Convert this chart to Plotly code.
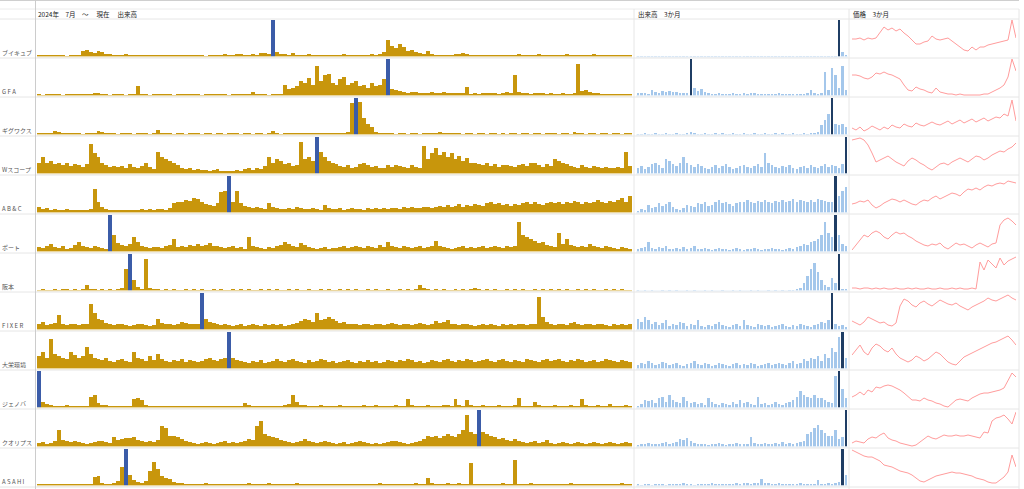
import plotly.graph_objects as go

# ---------------- data ----------------
labels = ["ブイキュブ", "G F A", "ギグワクス", "Wスコープ", "A B & C", "ポート",
          "阪本", "F I X E R", "大栄環境", "ジェノバ", "クオリプス", "A S A H I"]

header_long = "2024年　7月　～　 現在　 出来高"
header_recent = "出来高　3か月"
header_price = "価格　3か月"

# long-term volume (2024-07 .. now), relative units
long_r1 = [3,3,4,3,3,4,3,2,3,4, 3,14,18,12,10,16,12,7,6,5, 4,5,6,4,5,4,3,4,3,3, 4,3,5,4,3,4,3,3,4,3,
           4,3,2,3,3,4,5,6,4,5, 8,6,5,4,7,5,9,10,6,100, 12,8,6,5,9,5,4,5,6,4, 5,4,5,4,3,5,4,6,5,4,
           3,4,5,4,6,5,8,12,45,30, 22,35,25,15,18,12,10,8,14,6, 5,4,5,3,4,6,8,10,6,5, 4,3,5,4,3,4,5,4,3,4,
           5,6,4,3,5,4,6,3,4,5, 4,3,5,7,4,3,4,5,3,4, 6,4,3,5,4,3,4,5,3,4]
long_r2 = [3,2,3,4,3,3,2,3,4,3, 3,4,5,3,8,6,3,3,2,3, 4,3,2,3,3,27,3,3,2,3, 3,4,3,3,2,3,4,3,4,3,
           3,2,3,4,3,4,3,3,2,4, 3,3,4,3,10,4,3,3,2,3, 4,3,30,18,20,25,40,35,48,30, 80,40,55,60,35,30,45,50,28,35,
           40,25,30,20,35,25,30,45,100,18, 15,12,10,8,10,9,7,8,6,10, 8,7,9,6,7,8,7,6,22,5, 7,5,6,8,6,7,5,6,9,8,
           55,10,7,6,5,8,6,7,5,6, 5,4,6,5,4,8,85,12,15,10, 6,8,5,4,5,3,4,3,3,4]
long_r3 = [3,3,3,5,9,7,4,3,3,3, 3,2,3,3,5,10,7,4,3,3, 2,3,3,3,2,3,4,3,2,5, 12,5,3,3,2,3,3,2,3,3,
           3,2,3,3,2,3,3,2,3,3, 3,2,3,3,2,3,3,2,3,9, 3,2,3,4,4,5,4,4,3,3, 3,4,3,4,3,3,3,4,8,85,
           100,90,45,30,20,8,5,4,3,3, 2,3,3,2,3,3,2,3,3,3, 3,8,3,3,4,4,3,2,3,3, 2,3,3,2,3,3,2,3,2,3,
           3,2,3,3,2,3,3,2,3,4, 3,2,3,3,2,8,4,3,2,3, 3,2,3,3,2,3,3,2,3,3]
long_r4 = [30,45,28,35,25,30,22,28,20,25, 22,18,25,80,55,45,30,22,18,20, 18,20,15,25,18,15,20,30,18,12, 60,45,40,35,28,22,15,12,14,10,
           12,10,9,8,10,12,8,7,6,8, 10,8,12,15,10,14,12,20,45,30, 40,35,25,30,20,22,85,40,45,35, 100,60,45,35,30,25,20,18,22,16,
           18,25,30,22,18,20,15,16,22,18, 24,20,18,16,22,18,15,75,40,55, 70,50,60,45,55,40,48,35,42,30, 28,25,22,30,20,26,18,22,24,20,
           18,22,25,20,28,30,22,18,26,20, 40,35,30,25,20,18,16,22,18,15, 20,18,15,17,14,16,18,15,60,20]
long_r5 = [15,10,12,8,10,8,7,9,6,8, 7,6,8,9,65,30,15,10,8,7, 6,7,8,6,7,8,9,7,10,8, 9,10,8,12,25,30,28,35,32,40,
           38,30,22,20,18,25,55,60,100,30, 60,25,18,15,12,14,12,10,25,15, 12,10,9,11,10,14,12,10,9,12, 10,8,20,12,10,9,11,8,10,12,
           10,9,8,12,10,11,9,13,10,12, 11,10,14,12,15,13,12,16,14,12, 15,18,14,20,16,18,22,15,20,18, 24,20,18,25,30,22,26,20,24,18,
           22,20,25,28,22,30,24,20,26,30, 25,28,22,30,26,32,28,24,30,26, 28,35,30,26,32,28,35,40,30,45]
long_r6 = [12,10,15,20,12,10,14,8,10,18, 25,15,12,10,14,12,10,8,100,45, 22,18,15,20,40,25,15,12,10,12, 12,10,15,18,35,12,15,12,18,14,
           20,15,18,22,16,14,12,10,12,14, 10,12,8,40,15,12,10,8,12,10, 14,18,25,20,15,12,22,18,12,10, 8,10,12,8,10,9,12,14,10,12,
           15,12,10,14,12,10,18,12,25,15, 12,10,14,12,10,12,15,10,12,14, 30,15,12,10,8,10,12,14,10,12, 10,12,14,10,12,15,12,10,14,12,
           15,80,45,40,35,30,22,25,18,15, 12,50,20,35,18,14,12,16,12,20, 15,12,10,14,12,10,8,12,10,8]
long_r7 = [2,3,2,2,3,2,3,4,2,3, 2,3,15,4,3,2,3,2,3,2, 3,8,60,100,30,10,5,85,6,3, 3,2,3,2,3,2,2,3,2,3,
           2,3,2,2,3,2,3,2,2,3, 2,3,2,3,2,2,3,2,3,2, 3,2,2,3,2,3,2,2,3,2, 2,3,2,3,2,2,3,2,3,2,
           3,2,2,3,2,3,2,2,3,2, 2,3,2,3,2,3,15,8,3,2, 3,2,3,2,2,3,2,3,2,3, 8,3,2,3,2,3,2,2,3,2,
           3,2,3,2,2,3,2,3,2,3, 2,3,2,3,2,2,3,2,3,2, 3,2,2,3,2,3,2,3,2,2]
long_r8 = [15,20,12,15,18,40,15,12,14,15, 12,15,14,70,45,30,25,18,15,12, 15,14,12,10,12,15,14,12,10,12, 30,18,15,14,12,15,20,18,15,14,
           16,100,30,20,18,15,12,14,12,10, 12,15,10,12,14,12,10,14,12,15, 12,14,10,12,15,18,22,30,25,20, 45,25,30,35,28,22,18,20,15,14,
           16,12,14,15,12,16,14,12,15,18, 14,12,15,16,12,14,18,15,12,14, 22,18,20,25,15,14,12,15,14,12, 10,12,14,12,15,12,10,14,12,15,
           12,14,16,12,15,14,90,35,20,15, 12,15,14,12,18,20,14,12,15,14, 12,14,15,12,10,14,12,15,12,14]
long_r9 = [35,45,30,80,40,35,30,25,45,38, 30,35,60,40,30,25,22,28,20,18, 22,25,20,18,45,30,25,20,35,22, 40,25,20,18,22,20,25,18,22,20,
           18,20,25,30,22,20,25,28,100,30, 22,20,18,15,20,18,22,15,18,20, 25,20,18,22,25,20,18,15,22,18, 20,25,22,18,20,15,18,20,22,18,
           15,20,18,22,18,20,15,18,22,20, 18,22,20,25,22,18,20,15,18,22, 20,18,22,25,20,18,22,20,25,22, 18,20,22,25,20,18,22,25,20,18,
           22,20,18,25,22,20,18,22,25,20, 22,25,20,18,22,20,25,22,18,20, 22,18,20,25,22,20,18,22,20,18]
long_r10 = [100,15,10,6,5,4,3,8,4,5, 4,3,5,30,35,12,8,6,5,4, 5,4,5,4,22,25,20,8,5,4, 4,5,3,4,5,4,3,4,5,4,
            3,4,5,4,3,4,3,4,5,4, 5,4,12,6,4,3,4,5,4,3, 4,3,8,10,35,15,8,6,5,5, 5,6,5,4,5,4,6,5,4,5,
            4,5,6,4,5,6,5,4,3,5, 6,4,5,22,8,5,4,5,6,5, 4,5,6,8,5,22,6,5,20,6, 4,5,6,5,4,5,6,5,4,5,
            6,25,5,4,5,14,6,5,4,5, 6,5,4,5,6,4,5,24,8,5, 4,6,5,4,10,5,4,5,6,5]
long_r11 = [10,12,8,10,15,45,18,15,12,14, 12,10,8,10,12,14,15,12,10,25, 18,20,24,22,25,18,15,12,14,12, 18,55,50,30,28,25,20,15,12,10,
            8,10,12,10,8,10,12,14,10,12, 10,12,15,20,18,55,70,35,30,25, 22,18,15,12,10,12,14,20,15,12, 10,12,14,12,10,8,10,12,8,10,
            12,15,12,10,8,10,8,10,12,15, 14,12,10,8,10,12,15,20,30,25, 28,22,30,35,28,25,35,45,85,40, 35,100,40,35,30,25,20,22,18,15,
            20,15,12,10,12,14,10,12,18,10, 8,10,12,10,8,10,12,10,8,10, 12,10,8,10,12,10,8,10,12,10]
long_r12 = [3,4,3,3,5,4,3,4,3,3, 4,3,3,5,22,25,8,5,4,6, 12,50,100,30,15,10,8,12,40,65, 45,25,20,18,10,8,6,5,4,5,
            4,5,8,4,3,4,5,4,3,4, 5,4,3,8,4,5,3,4,6,4, 5,4,3,4,5,8,4,3,4,5, 4,3,5,4,3,4,5,4,3,5,
            4,3,4,5,3,4,6,4,3,4, 5,4,3,4,5,6,4,3,20,8, 5,4,3,6,4,5,8,5,4,62, 3,4,5,4,3,4,5,6,4,5,
            70,3,5,4,6,4,3,5,4,3, 4,5,3,4,6,4,5,3,4,5, 4,3,5,4,3,4,5,6,4,3]
long_hl = [59, 88, 80, 70, 48, 18, 23, 41, 48, 0, 111, 22]

# last-3-months volume, relative units
recent_r1 = [2,1,2,1,2,1,1,2,1,2, 1,2,1,1,2,1,2,1,1,2, 1,1,2,1,2,1,1,2,1,1, 2,1,1,2,1,2,1,1,2,1,
             1,2,1,1,2,1,1,2,1,2, 1,1,2,1,1,2,1,100,12,5]
recent_r2 = [8,7,6,5,15,10,8,12,9,11, 10,9,8,7,6,100,20,12,18,10, 8,5,4,6,5,4,5,7,5,4, 6,5,8,6,4,5,4,3,5,4,
             6,5,4,5,3,4,4,5,6,15, 8,5,6,65,15,75,55,20,80,15]
recent_r3 = [2,2,3,2,2,3,2,2,3,2, 2,3,2,2,3,8,3,2,2,3, 2,2,3,2,3,2,2,3,2,2, 3,2,2,3,2,2,3,2,2,3,
             2,3,2,2,3,2,2,3,2,4, 5,8,25,40,55,100,30,25,30,20]
recent_r4 = [15,20,12,18,25,30,22,15,40,35, 25,20,30,45,28,22,18,25,20,15, 12,18,22,15,20,25,18,12,15,20,
             22,18,15,20,25,18,55,30,22,18, 15,20,18,22,15,12,18,20,15,22, 18,15,20,25,18,22,20,15,25,100]
recent_r5 = [5,10,8,20,12,15,25,18,22,30, 15,10,8,12,20,18,15,25,22,30, 18,20,28,35,25,30,22,18,25,30,
             28,35,30,25,32,28,35,30,25,32, 30,35,28,32,38,30,35,32,28,35, 30,38,35,32,30,28,100,45,60,70]
recent_r6 = [8,10,12,25,10,8,12,10,15,8, 6,10,8,12,6,10,15,8,6,10, 8,5,6,10,8,6,5,8,10,6,
             5,8,6,10,8,5,6,8,10,6, 8,5,6,10,8,12,15,20,18,25, 30,35,45,80,50,40,100,45,20,15]
recent_r7 = [1,0,1,0,1,0,0,1,0,1, 0,1,0,0,1,0,1,0,0,1, 0,1,0,0,1,0,0,1,0,1, 0,0,1,0,1,0,0,1,0,1,
             0,1,0,1,2,3,8,20,40,60, 75,50,30,15,10,35,20,100,5,3]
recent_r8 = [30,20,35,25,15,20,12,18,25,10, 15,12,20,18,10,15,12,25,10,8, 12,10,15,20,12,10,8,12,15,10,
             25,12,10,8,15,12,10,12,8,10, 12,15,10,8,12,10,15,12,10,8, 12,15,20,18,25,100,15,10,12,8]
recent_r9 = [10,15,12,20,15,10,12,18,15,10, 12,15,10,8,12,15,20,12,10,15, 12,8,10,15,12,10,8,12,15,10,
             12,10,15,12,8,10,12,15,10,12, 15,12,10,15,20,12,15,25,20,30, 25,35,20,40,30,55,45,85,100,30]
recent_r10 = [5,10,20,18,20,12,25,30,15,35, 20,15,12,30,18,12,15,10,12,8, 25,15,10,8,12,10,8,15,10,20,
              12,15,10,8,30,10,12,8,10,15, 10,8,12,15,20,30,45,35,30,25, 35,25,25,20,15,12,85,100,50,25]
recent_r11 = [5,8,6,10,8,6,8,10,12,8, 10,12,20,18,22,15,10,8,6,8, 5,6,8,10,6,5,8,6,10,8,
              6,8,25,10,6,8,10,6,8,10, 8,12,6,10,8,10,12,15,35,40, 50,60,45,38,30,28,45,20,25,100]
recent_r12 = [3,2,4,3,2,5,3,4,2,3, 4,3,5,6,4,3,2,4,3,5, 4,6,5,3,4,3,5,4,6,5,
              8,6,5,7,6,18,8,6,5,4, 6,5,4,3,5,4,6,5,4,3, 4,15,5,4,6,5,8,10,100,30]
recent_hl = [57, 15, 55, 59, 56, 56, 57, 55, 58, 57, 59, 58]

# last-3-months price, relative units
price_r1 = [19,19,20,18,20,19,20,26,31,28,30,27,29,25,22,18,14,14,16,17,22,19,18,19,20,17,14,11,8,7,11,8,11,11,13,14,15,16,17,18,38,20]
price_r2 = [22,22,21,19,18,20,24,23,25,23,22,20,18,12,7,6,10,8,7,5,4,9,5,4,3,3,2,3,2,2,2,2,2,3,3,5,7,9,12,20,38,26]
price_r3 = [8,6,9,5,7,10,8,6,9,7,11,9,8,12,10,9,13,11,10,12,14,12,11,13,15,12,14,16,13,15,17,14,16,18,15,17,19,18,22,20,36,15]
price_r4 = [35,36,37,35,30,22,13,15,17,19,16,13,11,9,14,17,15,12,10,7,5,8,11,12,10,13,15,17,15,13,16,19,18,15,17,20,22,24,23,26,28,32]
price_r5 = [10,11,13,12,14,9,6,8,11,13,15,14,12,14,12,10,9,12,14,13,16,18,15,17,19,21,20,18,22,25,24,26,24,27,29,28,30,31,30,33,32,31]
price_r6 = [3,8,14,18,16,20,22,20,16,14,18,21,19,20,17,15,12,10,8,7,9,8,10,6,4,7,10,8,9,7,5,8,10,8,6,9,10,28,33,35,32,28]
price_r7 = [4,4,3,4,4,3,4,3,4,3,3,4,3,3,4,3,4,3,3,4,3,3,4,3,3,4,3,4,3,3,4,3,30,22,32,28,24,34,27,31,33,35]
price_r8 = [10,8,6,9,14,12,10,8,9,6,5,8,25,32,30,26,24,28,30,27,25,28,31,29,27,26,28,25,23,21,24,26,28,30,33,31,30,32,34,36,33,31]
price_r9 = [15,20,25,18,15,22,26,24,20,18,22,16,12,10,8,10,14,12,9,11,15,18,16,12,8,6,5,9,13,15,17,19,21,23,25,27,28,30,32,34,30,25]
price_r10 = [12,14,17,14,19,17,22,21,23,24,23,21,19,16,12,9,9,8,11,9,8,6,5,3,2,6,9,10,9,8,11,13,15,16,16,17,18,19,21,28,36,32]
price_r11 = [5,7,6,5,9,11,10,13,15,10,8,7,5,4,3,2,3,6,9,12,10,9,11,13,12,12,13,12,12,13,12,11,10,16,15,27,30,31,33,29,24,36]
price_r12 = [37,35,33,31,30,30,28,26,22,21,20,18,16,15,14,12,9,6,5,7,9,11,12,13,14,15,14,14,13,12,11,9,8,7,5,4,4,7,10,15,32,20]

long_rows = [long_r1, long_r2, long_r3, long_r4, long_r5, long_r6, long_r7, long_r8, long_r9, long_r10, long_r11, long_r12]
recent_rows = [recent_r1, recent_r2, recent_r3, recent_r4, recent_r5, recent_r6, recent_r7, recent_r8, recent_r9, recent_r10, recent_r11, recent_r12]
price_rows = [price_r1, price_r2, price_r3, price_r4, price_r5, price_r6, price_r7, price_r8, price_r9, price_r10, price_r11, price_r12]

# ---------------- styling ----------------
W, H = 1024, 489
GOLD = "#c8960c"
HL_LONG = "#3b5ca8"
BLUE = "#a4c7eb"
HL_RECENT = "#1f3d64"
LINE = "#ff9c9c"
FONT = "Noto Sans CJK JP"

ROW_TOP = 19
ROW_H = 39
COLS = [(37, 632), (636, 848), (852, 1016)]


def fx(px):
    return px / W


def fy(py):
    return 1 - py / H


fig = go.Figure()
layout = {}
shapes = []
annotations = []

n = 0
for r in range(12):
    top = ROW_TOP + ROW_H * r
    bot = top + ROW_H
    for c in range(3):
        n += 1
        xid = "x" if n == 1 else f"x{n}"
        yid = "y" if n == 1 else f"y{n}"
        xkey = "xaxis" if n == 1 else f"xaxis{n}"
        ykey = "yaxis" if n == 1 else f"yaxis{n}"
        x0, x1 = COLS[c]
        ax_common = dict(showgrid=False, zeroline=False, showticklabels=False,
                         ticks="", showline=False, fixedrange=True)
        if c == 0:
            vals = long_rows[r]
            hl = long_hl[r]
            colors = [HL_LONG if i == hl else GOLD for i in range(len(vals))]
            fig.add_trace(go.Bar(x=list(range(len(vals))), y=vals, marker_color=colors,
                                 marker_line_width=0, width=1.0, xaxis=xid, yaxis=yid,
                                 hoverinfo="skip"))
            layout[xkey] = dict(domain=[fx(x0), fx(x1)], range=[-0.5, len(vals) - 0.5],
                                anchor=yid, **ax_common)
            layout[ykey] = dict(domain=[fy(bot - 1.5), fy(top + 1)], range=[0, max(vals)],
                                anchor=xid, **ax_common)
            shapes.append(dict(type="line", xref="paper", yref="paper",
                               x0=fx(x0), x1=fx(x1), y0=fy(bot - 1), y1=fy(bot - 1),
                               line=dict(color="#f1e2b6", width=1)))
        elif c == 1:
            vals = recent_rows[r]
            hl = recent_hl[r]
            colors = [HL_RECENT if i == hl else BLUE for i in range(len(vals))]
            fig.add_trace(go.Bar(x=list(range(len(vals))), y=vals, marker_color=colors,
                                 marker_line_width=0, width=0.7, xaxis=xid, yaxis=yid,
                                 hoverinfo="skip"))
            layout[xkey] = dict(domain=[fx(x0), fx(x1)], range=[-0.5, len(vals) - 0.5],
                                anchor=yid, **ax_common)
            layout[ykey] = dict(domain=[fy(bot - 1.5), fy(top + 1)], range=[0, max(vals)],
                                anchor=xid, **ax_common)
            shapes.append(dict(type="line", xref="paper", yref="paper",
                               x0=fx(x0), x1=fx(x1), y0=fy(bot - 1), y1=fy(bot - 1),
                               line=dict(color="#e2ecf7", width=1)))
        else:
            vals = price_rows[r]
            fig.add_trace(go.Scatter(x=list(range(len(vals))), y=vals, mode="lines",
                                     line=dict(color=LINE, width=1), xaxis=xid, yaxis=yid,
                                     hoverinfo="skip"))
            layout[xkey] = dict(domain=[fx(x0), fx(x1)], range=[0, len(vals) - 1],
                                anchor=yid, **ax_common)
            layout[ykey] = dict(domain=[fy(bot), fy(top)], range=[0, ROW_H],
                                anchor=xid, **ax_common)
    # row separator
    shapes.append(dict(type="line", xref="paper", yref="paper", x0=0, x1=fx(1019),
                       y0=fy(bot), y1=fy(bot), line=dict(color="#e6e6e6", width=1)))
    annotations.append(dict(text=labels[r], x=fx(0), y=fy(bot - 6), xref="paper", yref="paper",
                            xanchor="left", yanchor="middle", showarrow=False,
                            font=dict(size=6, color="#555555", family=FONT)))

# header lines
for yy, col in [(0.5, "#cfcfcf"), (9, "#ececec"), (ROW_TOP, "#e6e6e6")]:
    shapes.append(dict(type="line", xref="paper", yref="paper", x0=0, x1=fx(1019),
                       y0=fy(yy), y1=fy(yy), line=dict(color=col, width=1)))
# vertical separators
shapes.append(dict(type="line", xref="paper", yref="paper", x0=fx(35.5), x1=fx(35.5),
                   y0=fy(0), y1=fy(H), line=dict(color="#cccccc", width=1)))
for xx in [634, 849, 1019]:
    shapes.append(dict(type="line", xref="paper", yref="paper", x0=fx(xx), x1=fx(xx),
                       y0=fy(9), y1=fy(H), line=dict(color="#e6e6e6", width=1)))

for txt, xx in [(header_long, 36), (header_recent, 636), (header_price, 851)]:
    annotations.append(dict(text=txt, x=fx(xx), y=fy(14), xref="paper", yref="paper",
                            xanchor="left", yanchor="middle", showarrow=False,
                            font=dict(size=6.5, color="#222222", family=FONT)))

fig.update_layout(width=W, height=H, margin=dict(l=0, r=0, t=0, b=0),
                  paper_bgcolor="white", plot_bgcolor="white", showlegend=False,
                  bargap=0, shapes=shapes, annotations=annotations, **layout)

fig.write_html("out.html", config={"displayModeBar": False, "staticPlot": True},
               post_script="document.body.style.margin='0px';document.body.style.overflow='hidden';")
